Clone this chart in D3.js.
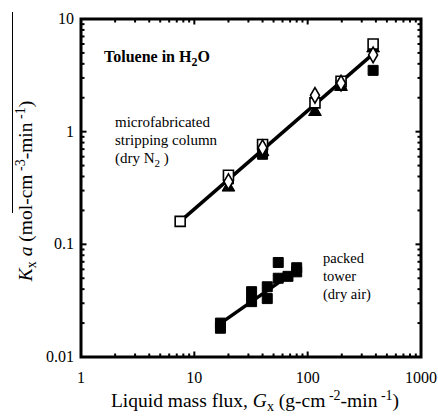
<!DOCTYPE html>
<html>
<head>
<meta charset="utf-8">
<script src="https://cdn.jsdelivr.net/npm/d3@7"></script>
</head>
<body style="margin:0">
<script>
// valores
var xTicks = [1, 10, 100, 1000];
var yTicks = [0.01, 0.1, 1, 10];
var xTickLabels = ["1", "10", "100", "1000"];
var yTickLabels = ["0.01", "0.1", "1", "10"];

// columna microfabricada (dry N2)
var microOpenSquare = [[7.5, 0.16], [20, 0.41], [40, 0.77], [116, 1.8], [197, 2.8], [378, 6.0]];
var microFilledSquare = [[20, 0.38], [40, 0.63], [197, 2.6], [378, 3.5]];
var microTriangle = [[20, 0.32], [40, 0.66], [116, 1.5], [197, 2.5], [378, 5.5]];
var microDiamond = [[20, 0.36], [40, 0.72], [116, 2.1], [197, 2.7], [378, 4.8]];
var microFit = [[7.5, 0.16], [378, 4.9]];

// torre empacada (dry air)
var packedX = [17, 17, 32, 32, 44, 44, 55, 55, 67, 80, 80];
var packedY = [0.020, 0.018, 0.038, 0.031, 0.042, 0.033, 0.069, 0.050, 0.052, 0.062, 0.057];
var packedFit = [[16.5, 0.0195], [72, 0.055]];

var width = 438, height = 420;
var margin = {top: 19, left: 81, right: 17, bottom: 63};
var serif = "'Liberation Serif'";

var svg = d3.select("body").append("svg")
  .attr("width", width)
  .attr("height", height)
  .attr("font-family", serif);

var x = d3.scaleLog().domain([1, 1000]).range([margin.left, width - margin.right]);
var y = d3.scaleLog().domain([0.01, 10]).range([height - margin.bottom, margin.top]);

// ticks menores (hacia adentro)
function minors(domain) {
  var out = [];
  for (var d = domain[0]; d < domain[1]; d *= 10) {
    for (var k = 2; k <= 9; k++) out.push(d * k);
  }
  return out;
}
var xMinor = minors([1, 1000]), yMinor = minors([0.01, 10]);

var g = svg.append("g");
var x0 = x.range()[0], x1 = x.range()[1], y0 = y.range()[0], y1 = y.range()[1];

function tickLines(vals, len, sw) {
  vals.forEach(function(v) {
    // abajo y arriba
    g.append("line").attr("x1", x(v)).attr("x2", x(v)).attr("y1", y0).attr("y2", y0 - len)
      .attr("stroke", "#000").attr("stroke-width", sw);
    g.append("line").attr("x1", x(v)).attr("x2", x(v)).attr("y1", y1).attr("y2", y1 + len)
      .attr("stroke", "#000").attr("stroke-width", sw);
  });
}
function tickLinesY(vals, len, sw) {
  vals.forEach(function(v) {
    g.append("line").attr("y1", y(v)).attr("y2", y(v)).attr("x1", x0).attr("x2", x0 + len)
      .attr("stroke", "#000").attr("stroke-width", sw);
    g.append("line").attr("y1", y(v)).attr("y2", y(v)).attr("x1", x1).attr("x2", x1 - len)
      .attr("stroke", "#000").attr("stroke-width", sw);
  });
}
tickLines(xMinor, 3.5, 2);
tickLines(xTicks, 5.5, 2);
tickLinesY(yMinor, 3.5, 2);
tickLinesY(yTicks, 5.5, 2);

// marco
g.append("rect")
  .attr("x", x0).attr("y", y1)
  .attr("width", x1 - x0).attr("height", y0 - y1)
  .attr("fill", "none").attr("stroke", "#000").attr("stroke-width", 3);

// etiquetas de ticks
svg.selectAll(".xl").data(xTicks).enter().append("text")
  .attr("x", function(d) { return x(d); })
  .attr("y", y0 + 26)
  .attr("text-anchor", "middle")
  .attr("font-family", serif)
  .attr("font-size", 16)
  .text(function(d, i) { return xTickLabels[i]; });

svg.selectAll(".yl").data(yTicks).enter().append("text")
  .attr("x", x0 - 7)
  .attr("y", function(d) { return y(d) + 5; })
  .attr("text-anchor", "end")
  .attr("font-family", serif)
  .attr("font-size", 16)
  .text(function(d, i) { return yTickLabels[i]; });

// lineas de ajuste
var line = d3.line()
  .x(function(d) { return x(d[0]); })
  .y(function(d) { return y(d[1]); });

svg.append("path").datum(microFit).attr("d", line)
  .attr("fill", "none").attr("stroke", "#000").attr("stroke-width", 3.5);
svg.append("path").datum(packedFit).attr("d", line)
  .attr("fill", "none").attr("stroke", "#000").attr("stroke-width", 3.5);

// marcadores
var sq = d3.symbol().type(d3.symbolSquare).size(100);
var tri = d3.symbol().type(d3.symbolTriangle).size(70);
var dia = d3.symbol().type(d3.symbolDiamond).size(70);

function markers(data, sym, fill, stroke, sw) {
  svg.append("g").selectAll("path").data(data).enter().append("path")
    .attr("d", sym)
    .attr("transform", function(d) { return "translate(" + x(d[0]) + "," + y(d[1]) + ")"; })
    .attr("fill", fill)
    .attr("stroke", stroke)
    .attr("stroke-width", sw);
}
markers(microFilledSquare, sq, "#000", "#000", 1);
markers(microTriangle, tri, "#000", "#000", 1);
markers(microOpenSquare, sq, "#fff", "#000", 1.6);
markers(microDiamond, dia, "#fff", "#000", 1.6);

var packed = packedX.map(function(v, i) { return [v, packedY[i]]; });
markers(packed, sq, "#000", "#000", 1);

// textos
function label(xp, yp, size) {
  return svg.append("text").attr("x", xp).attr("y", yp)
    .attr("font-family", serif).attr("font-size", size);
}

var t1 = label(104, 62, 16).attr("font-weight", "bold");
t1.append("tspan").text("Toluene in H");
t1.append("tspan").attr("dy", 4).attr("font-size", 12).text("2");
t1.append("tspan").attr("dy", -4).text("O");

var micro = ["microfabricated", "stripping column"];
micro.forEach(function(s, i) {
  label(115, 127 + i * 18, 15).text(s);
});
var t2 = label(115, 163, 15);
t2.append("tspan").text("(dry N");
t2.append("tspan").attr("dy", 4).attr("font-size", 11).text("2");
t2.append("tspan").attr("dy", -4).text(" )");

["packed", "tower", "(dry air)"].forEach(function(s, i) {
  label(323, 263 + i * 18, 14.5).text(s);
});

// titulo eje x
var tx = label(255, 407, 19.5).attr("text-anchor", "middle");
tx.append("tspan").text("Liquid mass flux, ");
tx.append("tspan").attr("font-style", "italic").text("G");
tx.append("tspan").attr("dy", 4).attr("font-size", 14).text("x");
tx.append("tspan").attr("dy", -4).text(" (g-cm");
tx.append("tspan").attr("dy", -7).attr("font-size", 14).text(" -2");
tx.append("tspan").attr("dy", 7).text("-min");
tx.append("tspan").attr("dy", -7).attr("font-size", 14).text(" -1");
tx.append("tspan").attr("dy", 7).text(")");

// titulo eje y
var ty = label(0, 0, 19.5)
  .attr("transform", "translate(32,191) rotate(-90)")
  .attr("text-anchor", "middle");
ty.append("tspan").attr("font-style", "italic").text("K");
ty.append("tspan").attr("dy", 4).attr("font-size", 14).text("x");
ty.append("tspan").attr("dy", -4).attr("font-style", "italic").text(" a");
ty.append("tspan").text(" (mol-cm");
ty.append("tspan").attr("dy", -7).attr("font-size", 14).text(" -3");
ty.append("tspan").attr("dy", 7).text("-min");
ty.append("tspan").attr("dy", -7).attr("font-size", 14).text(" -1");
ty.append("tspan").attr("dy", 7).text(")");

// linea suelta junto al titulo y (esta en la figura original)
svg.append("line").attr("x1", 12.5).attr("x2", 12.5).attr("y1", 12).attr("y2", 213)
  .attr("stroke", "#000").attr("stroke-width", 1);
</script>
</body>
</html>
